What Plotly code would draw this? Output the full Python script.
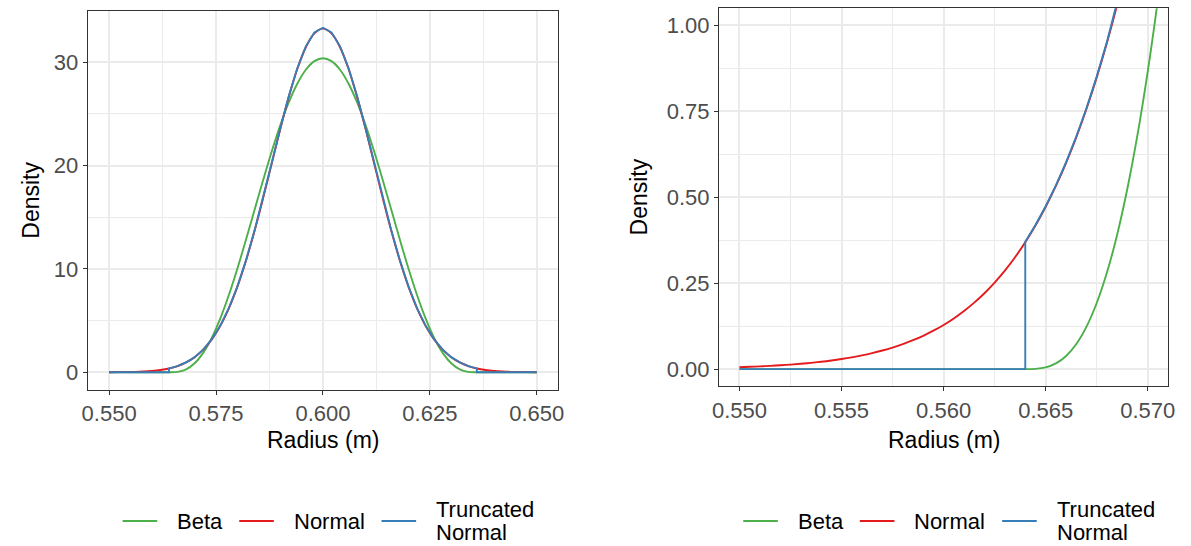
import plotly.graph_objects as go

# ---------------- data ----------------
# Full view: radius grid 0.550 .. 0.650 (step 0.002)
radius_full = [0.550, 0.552, 0.554, 0.556, 0.558, 0.560, 0.562, 0.564, 0.566, 0.568,
               0.570, 0.572, 0.574, 0.576, 0.578, 0.580, 0.582, 0.584, 0.586, 0.588,
               0.590, 0.592, 0.594, 0.596, 0.598, 0.600, 0.602, 0.604, 0.606, 0.608,
               0.610, 0.612, 0.614, 0.616, 0.618, 0.620, 0.622, 0.624, 0.626, 0.628,
               0.630, 0.632, 0.634, 0.636, 0.638, 0.640, 0.642, 0.644, 0.646, 0.648,
               0.650]
normal_full = [0.0056, 0.0112, 0.0214, 0.0400, 0.0727, 0.1285, 0.2209, 0.3693, 0.6005, 0.9497,
               1.4607, 2.1853, 3.1794, 4.4992, 6.1926, 8.2898, 10.7932, 13.6675, 16.8332, 20.1643,
               23.4927, 26.6207, 29.3388, 31.4486, 32.7866, 33.2452, 32.7866, 31.4486, 29.3388, 26.6207,
               23.4927, 20.1643, 16.8332, 13.6675, 10.7932, 8.2898, 6.1926, 4.4992, 3.1794, 2.1853,
               1.4607, 0.9497, 0.6005, 0.3693, 0.2209, 0.1285, 0.0727, 0.0400, 0.0214, 0.0112,
               0.0056]
beta_full = [0, 0, 0, 0, 0, 0, 0, 0, 0.0383, 0.2809,
             0.8667, 1.8733, 3.3264, 5.2095, 7.4725, 10.0398, 12.8174, 15.7000, 18.5771, 21.3382,
             23.8777, 26.0995, 27.9197, 29.2705, 30.1015, 30.3820, 30.1015, 29.2705, 27.9197, 26.0995,
             23.8777, 21.3382, 18.5771, 15.7000, 12.8174, 10.0398, 7.4725, 5.2095, 3.3264, 1.8733,
             0.8667, 0.2809, 0.0383, 0, 0, 0, 0, 0, 0, 0,
             0]
# truncated normal: support limits and density inside the support
tn_limits = (0.564, 0.636)
tn_full_inside = [0.3703, 0.6021, 0.9523, 1.4647, 2.1912, 3.1880, 4.5114, 6.2094, 8.3122, 10.8224,
                  13.7045, 16.8788, 20.2189, 23.5563, 26.6928, 29.4182, 31.5337, 32.8754, 33.3352, 32.8754,
                  31.5337, 29.4182, 26.6928, 23.5563, 20.2189, 16.8788, 13.7045, 10.8224, 8.3122, 6.2094,
                  4.5114, 3.1880, 2.1912, 1.4647, 0.9523, 0.6021, 0.3703]

# Zoomed view: radius grid 0.5500 .. 0.5715 (step 0.0005)
radius_zoom = [0.5500, 0.5505, 0.5510, 0.5515, 0.5520, 0.5525, 0.5530, 0.5535, 0.5540, 0.5545,
               0.5550, 0.5555, 0.5560, 0.5565, 0.5570, 0.5575, 0.5580, 0.5585, 0.5590, 0.5595,
               0.5600, 0.5605, 0.5610, 0.5615, 0.5620, 0.5625, 0.5630, 0.5635, 0.5640, 0.5645,
               0.5650, 0.5655, 0.5660, 0.5665, 0.5670, 0.5675, 0.5680, 0.5685, 0.5690, 0.5695,
               0.5700, 0.5705, 0.5710, 0.5715]
normal_zoom = [0.005647, 0.006712, 0.007963, 0.009432, 0.011152, 0.013164, 0.015511, 0.018244, 0.021423, 0.025111,
               0.029383, 0.034322, 0.040020, 0.046589, 0.054138, 0.062802, 0.072724, 0.084068, 0.097015, 0.111761,
               0.128523, 0.147547, 0.169089, 0.193440, 0.220916, 0.251856, 0.286633, 0.325642, 0.369321, 0.418130,
               0.472575, 0.533178, 0.600497, 0.675164, 0.757793, 0.849062, 0.949667, 1.060347, 1.181867, 1.315055,
               1.460700, 1.619700, 1.792800, 1.981000]
beta_zoom = [0, 0, 0, 0, 0, 0, 0, 0, 0, 0,
             0, 0, 0, 0, 0, 0, 0, 0, 0, 0,
             0, 0, 0, 0, 0, 0, 0, 0, 0, 0.000638,
             0.004995, 0.016506, 0.038299, 0.073211, 0.123797, 0.192343, 0.280871, 0.391155, 0.524728, 0.682893,
             0.866733, 1.077119, 1.314720, 1.580020]
tn_zoom_inside = [0.370321, 0.419262, 0.473854, 0.534621, 0.602123, 0.676992, 0.759844, 0.851360, 0.952238, 1.063217,
                  1.185066, 1.318615, 1.464700, 1.624100, 1.797700, 1.986400]

series_names = ["Beta", "Normal", "Truncated Normal"]
legend_labels = [["Beta"], ["Normal"], ["Truncated", "Normal"]]
series_colors = ["#4DAF4A", "#E41A1C", "#377EB8"]


def truncated_path(grid, inside_vals, limits):
    lo, hi = limits
    eps = 1e-9
    below = [x for x in grid if x <= lo + eps]
    inside = [x for x in grid if lo - eps <= x <= hi + eps]
    above = [x for x in grid if x >= hi - eps]
    xs = below + inside + above
    ys = [0] * len(below) + list(inside_vals[:len(inside)]) + [0] * len(above)
    return xs, ys


tn_full_x, tn_full_y = truncated_path(radius_full, tn_full_inside, tn_limits)
tn_zoom_x, tn_zoom_y = truncated_path(radius_zoom, tn_zoom_inside, tn_limits)

# ---------------- figure ----------------
W, H = 1191, 546
FONT = "Liberation Sans, Arial, sans-serif"
LW = 1.9

fig = go.Figure()

panels = [
    ("x", "y", radius_full, beta_full, normal_full, tn_full_x, tn_full_y),
    ("x2", "y2", radius_zoom, beta_zoom, normal_zoom, tn_zoom_x, tn_zoom_y),
]
for xa, ya, rx, b, n, tx, ty in panels:
    fig.add_trace(go.Scatter(x=rx, y=b, mode="lines", name=series_names[0], xaxis=xa, yaxis=ya,
                             showlegend=False,
                             line=dict(color=series_colors[0], width=LW, shape="spline")))
    fig.add_trace(go.Scatter(x=rx, y=n, mode="lines", name=series_names[1], xaxis=xa, yaxis=ya,
                             showlegend=False,
                             line=dict(color=series_colors[1], width=LW, shape="spline")))
    fig.add_trace(go.Scatter(x=tx, y=ty, mode="lines", name=series_names[2], xaxis=xa, yaxis=ya,
                             showlegend=False,
                             line=dict(color=series_colors[2], width=LW)))

grid_major = "#EBEBEB"
axis_common = dict(
    showline=True, mirror=True, linecolor="#333333", linewidth=1.1,
    ticks="outside", ticklen=4, tickwidth=1.1, tickcolor="#333333",
    showgrid=True, gridcolor=grid_major, gridwidth=1.5, zeroline=False,
    tickfont=dict(family=FONT, size=22, color="#4D4D4D"),
)


def px_x(p):
    return p / W


def px_y(p):
    return 1 - p / H


minor_style = dict(showgrid=True, gridcolor=grid_major, gridwidth=0.8, ticks="")

fig.update_layout(
    width=W, height=H, margin=dict(l=0, r=0, t=0, b=0),
    paper_bgcolor="white", plot_bgcolor="white",
    font=dict(family=FONT),
    showlegend=False,
    xaxis=dict(axis_common, domain=[px_x(81.7), px_x(557.7)], range=[0.545, 0.655],
               tickvals=[0.55, 0.575, 0.6, 0.625, 0.65], tickformat=".3f", anchor="y",
               minor=dict(minor_style, tickvals=[0.5625, 0.5875, 0.6125, 0.6375])),
    yaxis=dict(axis_common, domain=[px_y(389.5), px_y(10.5)], range=[-1.667, 35.002],
               tickvals=[0, 10, 20, 30], anchor="x",
               minor=dict(minor_style, tickvals=[5, 15, 25])),
    xaxis2=dict(axis_common, domain=[px_x(720.5), px_x(1175)], range=[0.549, 0.571],
                tickvals=[0.55, 0.555, 0.56, 0.565, 0.57], tickformat=".3f", anchor="y2",
                minor=dict(minor_style, tickvals=[0.5525, 0.5575, 0.5625, 0.5675])),
    yaxis2=dict(axis_common, domain=[px_y(386.3), px_y(8.3)], range=[-0.05, 1.05],
                tickvals=[0, 0.25, 0.5, 0.75, 1.0], tickformat=".2f", anchor="x2",
                minor=dict(minor_style, tickvals=[0.125, 0.375, 0.625, 0.875])),
)

# axis titles
title_font = dict(family=FONT, size=23, color="black")
for (xp, yp, txt, ang) in [
    (24, 200, "Density", -90),
    (640, 197, "Density", -90),
    (319.7, 440, "Radius (m)", 0),
    (947.8, 440, "Radius (m)", 0),
]:
    fig.add_annotation(x=px_x(xp), y=px_y(yp), xref="paper", yref="paper", text=txt,
                       textangle=ang, showarrow=False, font=title_font,
                       xanchor="center", yanchor="middle")

# legends below each panel (key line + label, ggplot style)
legend_font = dict(family=FONT, size=22, color="black")
key_starts = [117, 235, 379]          # left edge of each key line (left panel)
panel_shift = [0, 628]                # horizontal offset of each panel's legend
key_len, text_gap, legend_mid, line_step = 35, 18, 521, 23
for shift in panel_shift:
    for ks, color, lines in zip(key_starts, series_colors, legend_labels):
        x0 = ks + shift
        fig.add_shape(type="line", xref="paper", yref="paper",
                      x0=px_x(x0), x1=px_x(x0 + key_len), y0=px_y(legend_mid), y1=px_y(legend_mid),
                      line=dict(color=color, width=2.2))
        n = len(lines)
        for i, t in enumerate(lines):
            yc = legend_mid + (i - (n - 1) / 2) * line_step
            fig.add_annotation(x=px_x(x0 + key_len + text_gap), y=px_y(yc), xref="paper", yref="paper",
                               text=t, showarrow=False, font=legend_font,
                               xanchor="left", yanchor="middle")

fig.write_html("out.html")
